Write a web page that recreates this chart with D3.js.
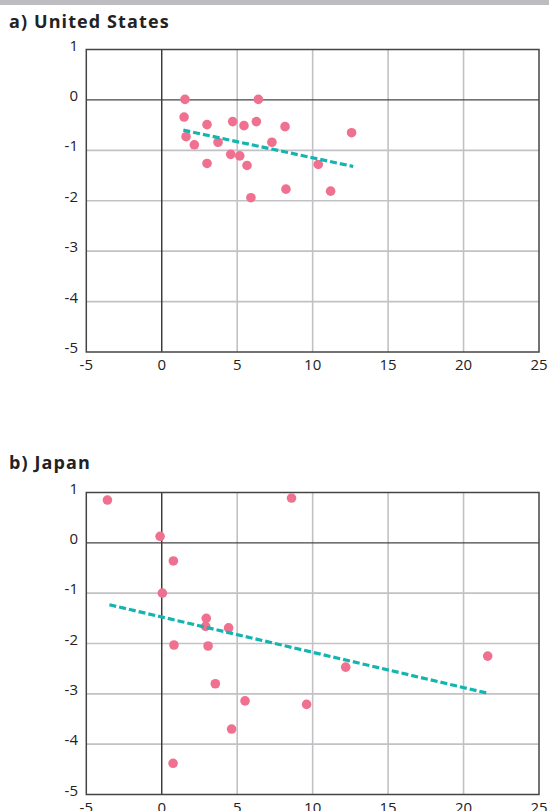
<!DOCTYPE html>
<html>
<head>
<meta charset="utf-8">
<script src="https://cdn.jsdelivr.net/npm/d3@7"></script>
<style>
  body { margin: 0; background: #fff; }
  svg { display: block; font-family: "Open Sans", Lato, sans-serif; }
  .tick-label { font-size: 15px; fill: #222; }
  .panel-title { font-size: 18px; font-weight: bold; fill: #222; letter-spacing: 1.1px; }
</style>
</head>
<body>
<div id="container"></div>
<script>

var svgW = 549, svgH = 811;

var xTicks = [-5, 0, 5, 10, 15, 20, 25];
var yTicks = [1, 0, -1, -2, -3, -4, -5];

//  United States: growth (x) vs change (y)
var usX = [1.54, 6.40, 1.48, 3.0, 4.70, 5.45, 6.27, 8.17, 1.61, 2.16, 3.73, 7.30, 4.57, 5.17, 5.65, 3.0, 10.37, 12.58, 8.23, 11.19, 5.91];
var usY = [0.01, 0.01, -0.34, -0.49, -0.43, -0.51, -0.43, -0.53, -0.73, -0.89, -0.84, -0.84, -1.08, -1.11, -1.30, -1.26, -1.28, -0.65, -1.77, -1.81, -1.94];
var usTrend = [[1.43, -0.60], [12.69, -1.32]];

//  Japan
var jpX = [-3.6, -0.11, 0.77, 0.04, 2.95, 2.91, 4.43, 0.81, 3.07, 3.55, 5.52, 9.6, 4.63, 0.75, 8.6, 21.6, 12.19];
var jpY = [0.85, 0.13, -0.36, -1.0, -1.5, -1.66, -1.69, -2.03, -2.05, -2.80, -3.14, -3.21, -3.70, -4.38, 0.89, -2.25, -2.47];
var jpTrend = [[-3.47, -1.23], [21.63, -2.99]];

var dotColor = "#f07090";
var trendColor = "#14b4b0";
var gridColor = "#c2c2c6";
var axisColor = "#333";

var svg = d3.select("#container")
    .append("svg")
    .attr("width", svgW)
    .attr("height", svgH);

//  grey header strip at the very top
svg.append("rect")
    .attr("x", 0).attr("y", 0)
    .attr("width", svgW).attr("height", 5)
    .attr("fill", "#bdbdc1");

var x = d3.scaleLinear().domain([-5, 25]).range([86.3, 539]);

function drawPanel(title, titleY, top, bottom, xs, ys, trend) {

    var y = d3.scaleLinear().domain([-5, 1]).range([bottom, top]);

    var g = svg.append("g");

    g.append("text")
        .attr("class", "panel-title")
        .attr("x", 9)
        .attr("y", titleY)
        .text(title);

    //  grid lines
    g.selectAll(".vgrid")
        .data(xTicks.filter(function(d){ return d != 0 && d != -5 && d != 25; }))
        .enter()
        .append("line")
        .attr("x1", function(d){ return x(d); })
        .attr("x2", function(d){ return x(d); })
        .attr("y1", top).attr("y2", bottom)
        .attr("stroke", gridColor)
        .attr("stroke-width", 1.6);

    g.selectAll(".hgrid")
        .data(yTicks.filter(function(d){ return d != 0 && d != 1 && d != -5; }))
        .enter()
        .append("line")
        .attr("x1", x(-5)).attr("x2", x(25))
        .attr("y1", function(d){ return y(d); })
        .attr("y2", function(d){ return y(d); })
        .attr("stroke", gridColor)
        .attr("stroke-width", 1.6);

    //  zero axes
    g.append("line")
        .attr("x1", x(0)).attr("x2", x(0))
        .attr("y1", top).attr("y2", bottom)
        .attr("stroke", axisColor)
        .attr("stroke-width", 1.4);

    g.append("line")
        .attr("x1", x(-5)).attr("x2", x(25))
        .attr("y1", y(0)).attr("y2", y(0))
        .attr("stroke", "#444")
        .attr("stroke-width", 1.4);

    //  frame
    g.append("rect")
        .attr("x", x(-5)).attr("y", top)
        .attr("width", x(25) - x(-5))
        .attr("height", bottom - top)
        .attr("fill", "none")
        .attr("stroke", "#444")
        .attr("stroke-width", 1.5);

    //  tick labels
    g.selectAll(".ylab")
        .data(yTicks)
        .enter()
        .append("text")
        .attr("class", "tick-label")
        .attr("x", 78)
        .attr("y", function(d){ return y(d) - 3; })
        .attr("text-anchor", "end")
        .attr("dominant-baseline", "middle")
        .text(function(d){ return d; });

    g.selectAll(".xlab")
        .data(xTicks)
        .enter()
        .append("text")
        .attr("class", "tick-label")
        .attr("x", function(d){ return x(d); })
        .attr("y", bottom + 18)
        .attr("text-anchor", "middle")
        .text(function(d){ return d; });

    //  points
    g.selectAll(".dot")
        .data(xs)
        .enter()
        .append("circle")
        .attr("cx", function(d){ return x(d); })
        .attr("cy", function(d, i){ return y(ys[i]); })
        .attr("r", 4.8)
        .attr("fill", dotColor);

    //  trend line
    g.append("path")
        .datum(trend)
        .attr("d", d3.line()
            .x(function(d){ return x(d[0]); })
            .y(function(d){ return y(d[1]); }))
        .attr("fill", "none")
        .attr("stroke", trendColor)
        .attr("stroke-width", 3.2)
        .attr("stroke-dasharray", "7,3");
}

drawPanel("a) United States", 28, 49.5, 352, usX, usY, usTrend);
drawPanel("b) Japan", 469, 492.5, 794.5, jpX, jpY, jpTrend);

</script>
</body>
</html>
